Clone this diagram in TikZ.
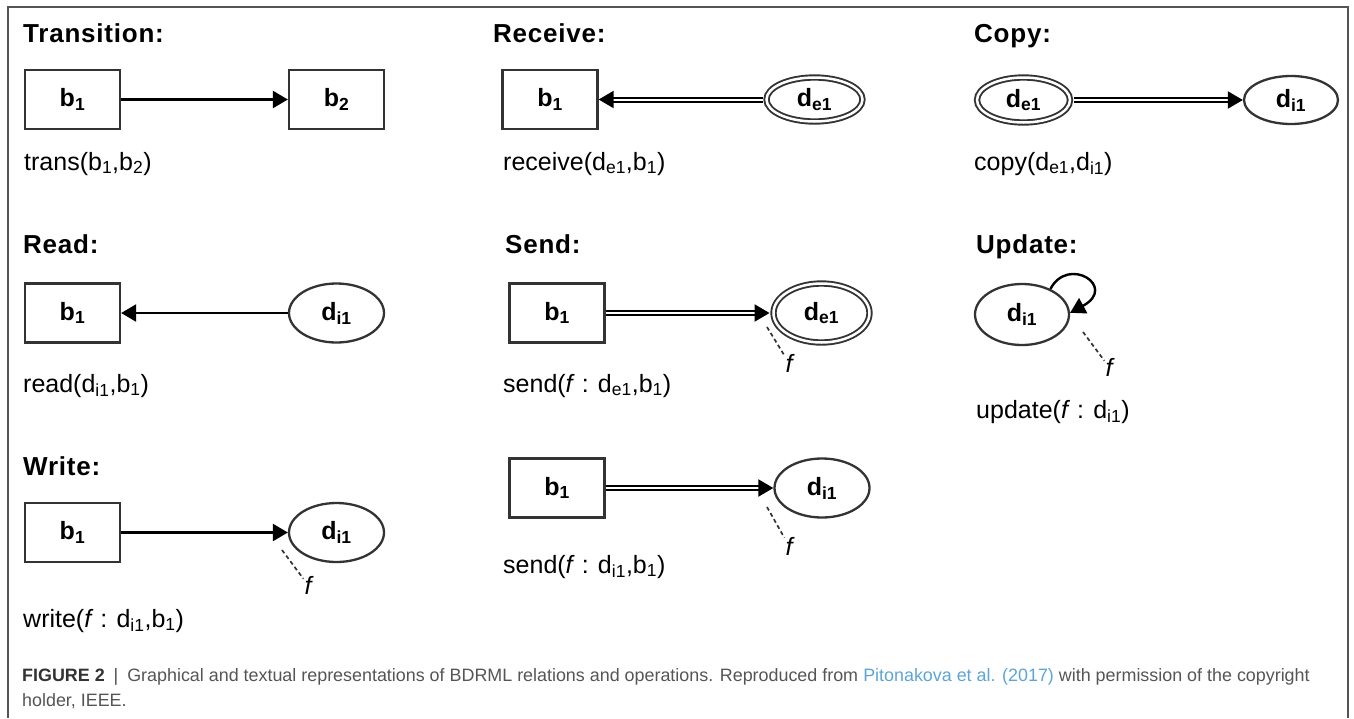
\documentclass[tikz,border=0pt]{standalone}
\usepackage{fontspec}
\setmainfont{Liberation Sans}
\newfontfamily\titlefont[LetterSpace=3]{Liberation Sans}
\newfontfamily\capfont{Liberation Sans}
\usetikzlibrary{arrows.meta, shapes.geometric, positioning}
\definecolor{lineGray}{HTML}{333333}
\definecolor{frameGray}{HTML}{555555}
\definecolor{capGray}{HTML}{555555}
\definecolor{capBlue}{HTML}{5DA5D6}
\newcommand{\bodyFont}{\fontsize{25}{30}\selectfont}
\newcommand{\titleFont}{\titlefont\fontsize{26}{31}\selectfont\bfseries}
\tikzset{
    blockNode/.style={rectangle, draw=lineGray, line width=2.3pt, minimum width=95pt, minimum height=59pt, inner sep=0pt, font=\bodyFont\bfseries},
    dataNode/.style={ellipse, draw=lineGray, line width=2.3pt, minimum width=95pt, minimum height=59pt, inner sep=0pt, font=\bodyFont\bfseries},
    extNode/.style={dataNode, draw=lineGray, double=white, double distance=2.5pt, line width=1.9pt, minimum width=96pt, minimum height=59pt},
    bdLink/.style={-{Triangle[length=15pt, width=17pt]}, line width=2.4pt, black},
    bdFlow/.style={bdLink, double=white, double distance=2pt, line width=2pt},
    funLink/.style={dashed, dash pattern=on 4pt off 3pt, line width=1.7pt, lineGray},
    funLabel/.style={inner sep=1pt, font=\bodyFont\itshape},
    opLabel/.style={anchor=base west, inner sep=0pt, font=\bodyFont},
    opTitle/.style={anchor=base west, inner sep=0pt, font=\titleFont},
    capLine/.style={anchor=base west, inner sep=0pt, font=\capfont\fontsize{17.9}{21}\selectfont, text=capGray},
}
\newcommand{\drawFun}[3]{
    % dashed tag from the arrow tip to the function name
    \node[funLabel] (#2) at (#3) {f};
    \draw[funLink] (#1) -- (#2);
}

\begin{document}
\begin{tikzpicture}[x=1pt, y=1pt]

        \useasboundingbox (0,0) rectangle (1354,-718);
        \draw[frameGray, line width=1.4pt] (8,-718) -- (8,-7) -- (1348,-7) -- (1348,-718);

        % Transition
        \node[opTitle] (t-title) at (23,-42) {Transition:};
        \node[blockNode] (t-b1) at (72.5,-99.5) {b\textsubscript{1}};
        \node[blockNode] (t-b2) at (336.5,-99.5) {b\textsubscript{2}};
        \draw[bdLink] (t-b1) -- (t-b2);
        \node[opLabel] (t-op) at (24,-170) {trans(b\textsubscript{1},b\textsubscript{2})};

        % Receive
        \node[opTitle] (rc-title) at (493,-42) {Receive:};
        \node[blockNode] (rc-b1) at (550,-99.5) {b\textsubscript{1}};
        \node[extNode, minimum height=44pt] (rc-de) at (814.5,-99.5) {d\textsubscript{e1}};
        \draw[bdFlow, shorten <=3pt] (rc-de) -- (rc-b1);
        \node[opLabel] (rc-op) at (503,-170) {receive(d\textsubscript{e1},b\textsubscript{1})};

        % Copy
        \node[opTitle] (c-title) at (974,-42) {Copy:};
        \node[extNode, minimum width=93pt, minimum height=45pt] (c-de) at (1023.5,-100) {d\textsubscript{e1}};
        \node[dataNode, minimum width=94pt, minimum height=48pt] (c-di) at (1291,-100) {d\textsubscript{i1}};
        \draw[bdFlow, shorten <=3pt] (c-de) -- (c-di);
        \node[opLabel] (c-op) at (974,-170) {copy(d\textsubscript{e1},d\textsubscript{i1})};

        % Read
        \node[opTitle] (r-title) at (23,-253) {Read:};
        \node[blockNode] (r-b1) at (72.5,-313) {b\textsubscript{1}};
        \node[dataNode] (r-di) at (336.5,-313) {d\textsubscript{i1}};
        \draw[bdLink] (r-di) -- (r-b1);
        \node[opLabel] (r-op) at (23,-392) {read(d\textsubscript{i1},b\textsubscript{1})};

        % Send
        \node[opTitle] (s-title) at (505,-253) {Send:};
        \node[blockNode] (s-b1) at (557,-313) {b\textsubscript{1}};
        \node[extNode] (s-de) at (821.5,-313) {d\textsubscript{e1}};
        \draw[bdFlow, shorten >=3pt] (s-b1) -- (s-de);
        \coordinate (s-fa) at (767,-327);
        \drawFun{s-fa}{s-f}{789,-363}
        \node[opLabel] (s-op) at (503,-392) {send(\textit{f} : d\textsubscript{e1},b\textsubscript{1})};

        % Update
        \node[opTitle] (u-title) at (976,-253) {Update:};
        \node[dataNode, minimum width=94pt, minimum height=61pt] (u-di) at (1022,-314.5) {d\textsubscript{i1}};
        \draw[bdLink] (u-di.42) .. controls +(18,34) and +(48,26) .. (u-di.2);
        \coordinate (u-fa) at (1083,-332);
        \drawFun{u-fa}{u-f}{1109,-367}
        \node[opLabel] (u-op) at (976,-418) {update(\textit{f} : d\textsubscript{i1})};

        % Write
        \node[opTitle] (w-title) at (23,-475) {Write:};
        \node[blockNode] (w-b1) at (72.5,-532.5) {b\textsubscript{1}};
        \node[dataNode] (w-di) at (336.5,-532.5) {d\textsubscript{i1}};
        \draw[bdLink] (w-b1) -- (w-di);
        \coordinate (w-fa) at (282,-550);
        \drawFun{w-fa}{w-f}{308,-585}
        \node[opLabel] (w-op) at (23,-627) {write(\textit{f} : d\textsubscript{i1},b\textsubscript{1})};

        % Send (internal)
        \node[blockNode] (s2-b1) at (557,-488) {b\textsubscript{1}};
        \node[dataNode] (s2-di) at (822,-488) {d\textsubscript{i1}};
        \draw[bdFlow] (s2-b1) -- (s2-di);
        \coordinate (s2-fa) at (767,-507);
        \drawFun{s2-fa}{s2-f}{789,-546}
        \node[opLabel] (s2-op) at (503,-573) {send(\textit{f} : d\textsubscript{i1},b\textsubscript{1})};

        % caption
        \node[capLine] (cap1) at (22,-681) {\textcolor{black!80}{\textbf{FIGURE 2}}\enspace\textcolor{black!70}{|}\enspace Graphical and textual representations of BDRML relations and operations. Reproduced from \textcolor{capBlue}{Pitonakova et al. (2017)} with permission of the copyright};
        \node[capLine] (cap2) at (22,-706) {holder, IEEE.};

    \end{tikzpicture}
\end{document}
